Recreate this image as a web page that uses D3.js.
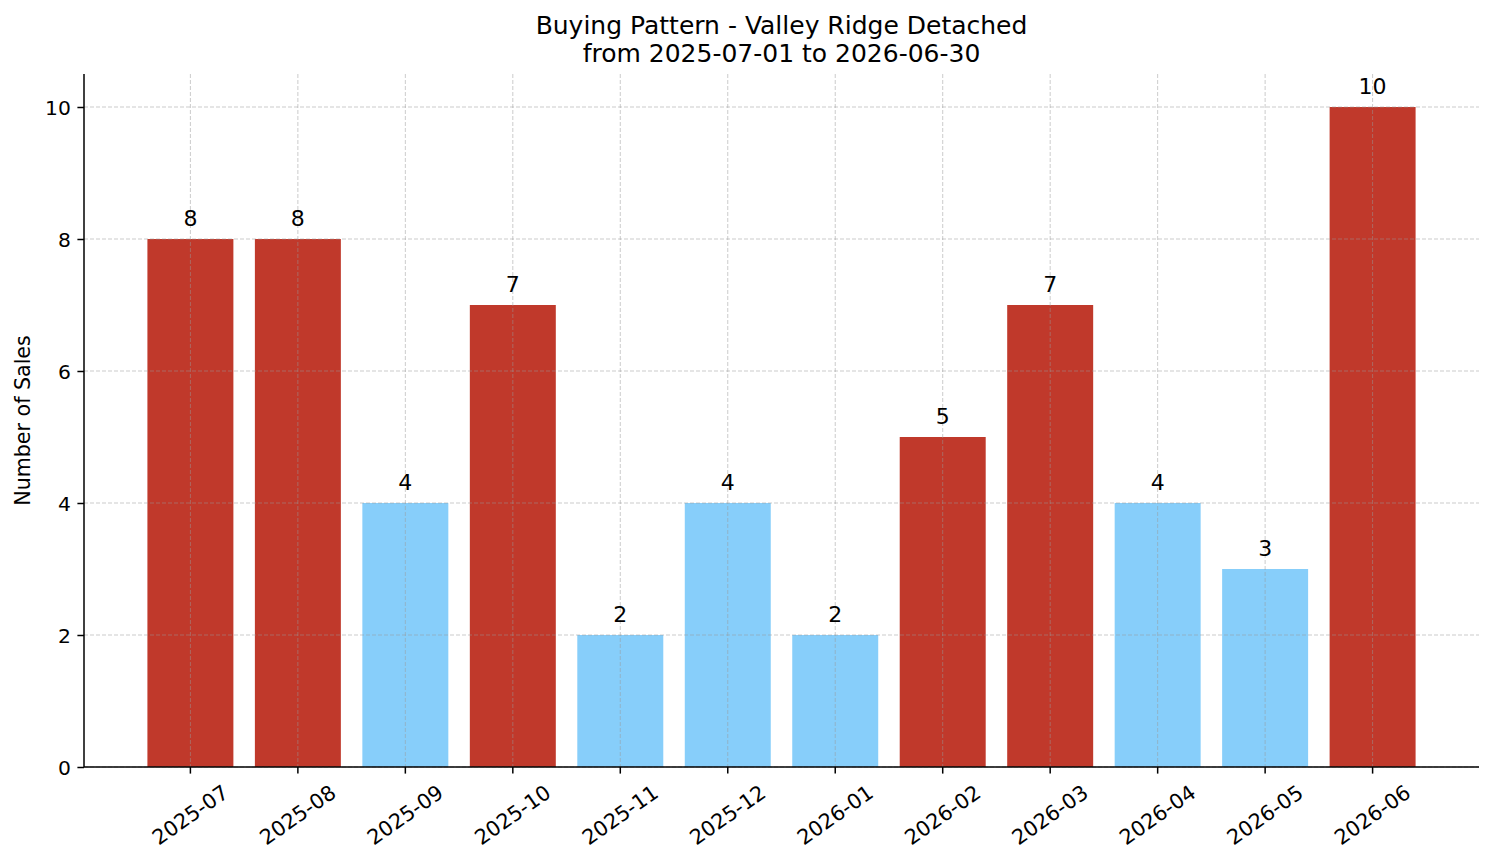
<!DOCTYPE html>
<html>
<head>
<meta charset="utf-8">
<script src="https://cdn.jsdelivr.net/npm/d3@7"></script>
<style>
	body { margin: 0; background: #ffffff; }
	svg text { font-family: "DejaVu Sans", sans-serif; fill: #000000; }
</style>
</head>
<body>
<svg id="svgChart" width="1494" height="863"></svg>
<script>
var months = ["2025-07", "2025-08", "2025-09", "2025-10", "2025-11", "2025-12",
			  "2026-01", "2026-02", "2026-03", "2026-04", "2026-05", "2026-06"];
var sales = [8, 8, 4, 7, 2, 4, 2, 5, 7, 4, 3, 10];
var yTicks = [0, 2, 4, 6, 8, 10];
var titleLines = ["Buying Pattern - Valley Ridge Detached", "from 2025-07-01 to 2026-06-30"];
var yLabel = "Number of Sales";

var colors = { high: "#c0392b", low: "#87cefa" };

class SalesBarChart{
	/*
		Bar chart of monthly sales, months above the median are highlighted
	*/
	constructor(svgId, categories, values) {
		this.categories = categories;
		this.values = values;
		this.margin = { left: 84, right: 15, top: 74, bottom: 96 };
		this.yTickFont = 20.3;
		this.xTickFont = 20.8;

		this.svg = d3.select(svgId);
		this.width = +this.svg.attr("width");
		this.height = +this.svg.attr("height");
		this.plotW = this.width - this.margin.left - this.margin.right;
		this.plotH = this.height - this.margin.top - this.margin.bottom;
		this.g = this.svg.append("g")
					.attr("transform", "translate(" + this.margin.left + "," + this.margin.top + ")");

		this.median = d3.median(values);
		this._makeScales();
		this._drawBars();
		this._drawGrid();
		this._drawAxes();
		this._drawLabels();
		this._drawTitles();
	}
	_makeScales(){
		this.x = d3.scaleBand()
				.domain(this.categories)
				.range([0, this.plotW])
				.paddingInner(0.2)
				.paddingOuter(0.59);
		//10.5 upper limit like matplotlib's 5% margin
		this.y = d3.scaleLinear().domain([0, 10.5]).range([this.plotH, 0]);
	}
	_drawBars(){
		var that = this;
		this.g.selectAll(".bar")
			.data(this.values)
			.enter().append("rect")
			.attr("class", "bar")
			.attr("x", function(d, i){ return that.x(that.categories[i]); })
			.attr("width", this.x.bandwidth())
			.attr("y", function(d){ return that.y(d); })
			.attr("height", function(d){ return that.plotH - that.y(d); })
			.style("fill", function(d){ return d > that.median ? colors.high : colors.low; });
	}
	_drawGrid(){
		var that = this;
		var grid = this.g.append("g").attr("class", "grid")
				.attr("stroke", "#9a9a9a").attr("stroke-opacity", 0.5)
				.attr("stroke-width", 1).attr("stroke-dasharray", "4,2");
		grid.selectAll(".hgrid").data(yTicks).enter().append("line")
			.attr("x1", 0).attr("x2", this.plotW)
			.attr("y1", function(d){ return that.y(d); })
			.attr("y2", function(d){ return that.y(d); });
		grid.selectAll(".vgrid").data(this.categories).enter().append("line")
			.attr("y1", 0).attr("y2", this.plotH)
			.attr("x1", function(d){ return that.x(d) + that.x.bandwidth()/2; })
			.attr("x2", function(d){ return that.x(d) + that.x.bandwidth()/2; });
	}
	_drawAxes(){
		var yAxis = d3.axisLeft(this.y).tickValues(yTicks).tickSize(6.6).tickPadding(6.6);
		var ya = this.g.append("g").call(yAxis);
		ya.selectAll("text").style("font-size", this.yTickFont + "px").attr("dy", "0.35em");

		var xAxis = d3.axisBottom(this.x).tickSize(6.6).tickFormat("");
		var xa = this.g.append("g").attr("transform", "translate(0," + this.plotH + ")").call(xAxis);

		[ya, xa].forEach(function(a){
			a.select(".domain").attr("stroke", "#000").attr("stroke-width", 1.5);
			a.selectAll(".tick line").attr("stroke", "#000").attr("stroke-width", 1.5);
		});
		//keep the axis line without the outer ticks
		ya.select(".domain").attr("d", "M0," + this.y.range()[1] + "V" + this.y.range()[0]);
		xa.select(".domain").attr("d", "M0,0H" + this.plotW);

		//rotated month labels, rotated box hangs under the tick
		var that = this;
		var angle = 35 * Math.PI / 180;
		var fs = this.xTickFont;
		this.g.selectAll(".xlabel").data(this.categories).enter().append("text")
			.attr("class", "xlabel")
			.style("font-size", fs + "px")
			.attr("text-anchor", "middle")
			.attr("dominant-baseline", "central")
			.text(function(d){ return d; })
			.attr("transform", function(d){
				var w = this.getComputedTextLength();
				var h = fs * 1.17;
				var boxH = w * Math.sin(angle) + h * Math.cos(angle);
				var cx = that.x(d) + that.x.bandwidth()/2;
				var cy = that.plotH + 13.2 + boxH/2;
				return "translate(" + cx + "," + cy + ") rotate(-35)";
			});
	}
	_drawLabels(){
		var that = this;
		this.g.selectAll(".valueLabel")
			.data(this.values)
			.enter().append("text")
			.attr("class", "valueLabel")
			.style("font-size", "22px")
			.attr("text-anchor", "middle")
			.attr("x", function(d, i){ return that.x(that.categories[i]) + that.x.bandwidth()/2; })
			.attr("y", function(d){ return that.y(d) - 13; })
			.text(function(d){ return d; });
	}
	_drawTitles(){
		this.svg.selectAll(".title").data(titleLines).enter().append("text")
			.attr("class", "title")
			.style("font-size", "25px")
			.attr("text-anchor", "middle")
			.attr("x", this.margin.left + this.plotW/2)
			.attr("y", function(d, i){ return 34 + i*28; })
			.text(function(d){ return d; });

		this.svg.append("text")
			.style("font-size", "20.6px")
			.attr("text-anchor", "middle")
			.attr("transform", "translate(30," + (this.margin.top + this.plotH/2) + ") rotate(-90)")
			.text(yLabel);
	}
}

var chart = new SalesBarChart("#svgChart", months, sales);
</script>
</body>
</html>
